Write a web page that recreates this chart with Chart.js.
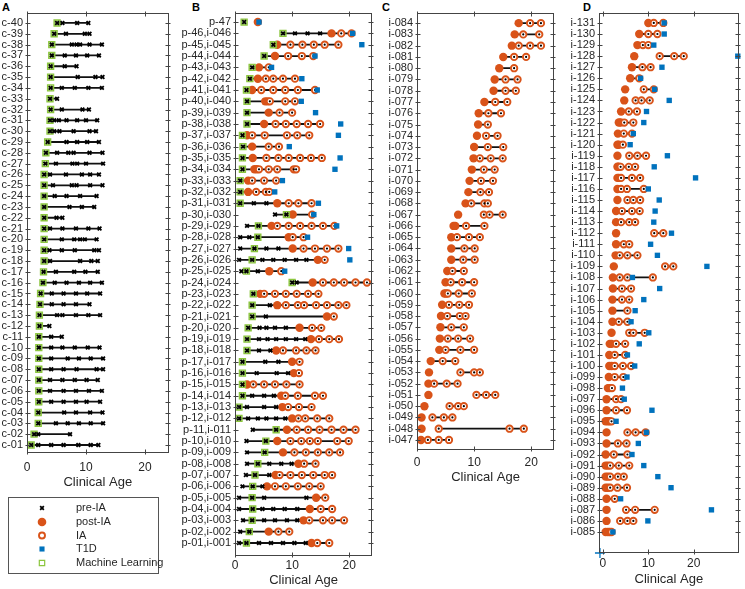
<!DOCTYPE html>
<html>
<head>
<meta charset="utf-8">
<title>Clinical Age</title>
<script src="https://cdn.jsdelivr.net/npm/chart.js@4.4.0/dist/chart.umd.min.js"></script>
<style>
    html, body { margin: 0; padding: 0; background: #fff; width: 745px; height: 589px; overflow: hidden; }
    canvas { position: absolute; top: 0; }
    .letter { position: absolute; top: 1px; font: bold 11px "Liberation Sans", Arial, sans-serif; color: #000; }
</style>
</head>
<body>
<div class="letter" style="left:2px">A</div>
<div class="letter" style="left:192px">B</div>
<div class="letter" style="left:382px">C</div>
<div class="letter" style="left:583px">D</div>
<canvas id="chart-a" width="178" height="600" style="left:0px"></canvas>
<canvas id="chart-b" width="200" height="600" style="left:178px"></canvas>
<canvas id="chart-c" width="182" height="600" style="left:378px"></canvas>
<canvas id="chart-d" width="185" height="600" style="left:560px"></canvas>
<script>
// ===== DATA (rows listed top to bottom) =====
const xTicks = [0, 10, 20];

// --- A: controls ---
const labelsA = ['c-40','c-39','c-38','c-37','c-36','c-35','c-34','c-33','c-32','c-31','c-30','c-29','c-28','c-27','c-26','c-25','c-24','c-23','c-22','c-21',
    'c-20','c-19','c-18','c-17','c-16','c-15','c-14','c-13','c-12','c-11','c-10','c-09','c-08','c-07','c-06','c-05','c-04','c-03','c-02','c-01'];
const preA = [
    [5.1,6.0,8.5,10.4], [4.6,6.6,9.8,10.6], [4.2,7.6,8.4,9.0,10.6,12.7], [4.2,6.4,8.3,10.2,12.2], [4.0,6.4,8.4],
    [4.0,8.6,11.6,12.8], [4.0,5.9,8.1,10.4,12.7], [3.9,5.1], [4.0,5.9,9.4,10.5], [3.9,4.6,5.4,6.7,8.5,10.0,11.9],
    [3.9,4.6,5.5,7.9,10.6,11.7], [3.5,6.7,8.5,10.2,12.2], [3.2,5.1,7.0,7.9,10.6,12.8], [3.1,4.9,7.7,8.5,10.0,12.9], [2.9,3.9,6.6,9.3,10.7,12.2],
    [2.9,4.4,7.6,8.4,10.7,12.8], [2.9,4.7,6.7,9.0,11.8], [2.9,7.2,9.3,11.4], [2.9,5.0,6.0], [2.9,3.9,6.0,8.3,10.4,12.3],
    [2.9,5.9,8.0,9.0,9.8,11.8], [2.9,3.8,5.9,8.1,11.4,12.2], [2.9,3.9,9.0,10.9,12.0], [2.8,4.9,8.0,9.9,12.0], [2.7,4.7,6.7,8.8,10.7,12.7],
    [2.3,4.2,6.2,8.3,10.2,12.4], [2.2,4.2,6.2,8.3,10.6], [2.1,5.1,6.0,8.3,10.4,12.4], [2.1,3.8], [2.0,4.1,5.9],
    [2.0,4.1,6.0,8.1,10.3,12.3], [2.0,4.1,6.9,8.8,10.8,12.9], [2.0,4.1,6.2,8.4,11.8,12.9], [2.0,3.9,6.0,8.1,10.1,12.0], [2.0,3.9,6.2,8.3,10.5,12.7],
    [2.0,4.1,6.2,8.3,10.1,12.4], [1.9,6.3,8.3,10.7,12.8], [1.9,4.9,6.9,8.8,10.8,12.9], [1.2,1.9,7.3], [0.7,1.9,4.1,6.2,8.7,10.8,12.1]
];
const mlA = [5.1,4.6,4.2,4.2,4.0,4.0,4.0,3.9,4.0,3.9,3.9,3.5,3.2,3.1,2.9,2.9,2.9,2.9,2.9,2.9,
    2.9,2.9,2.9,2.8,2.7,2.3,2.2,2.1,2.1,2.0,2.0,2.0,2.0,2.0,2.0,2.0,1.9,1.9,1.2,0.7];

// --- B: progressors ---
const labelsB = ['p-47','p-46,i-046','p-45,i-045','p-44,i-044','p-43,i-043','p-42,i-042','p-41,i-041','p-40,i-040','p-39,i-039','p-38,i-038',
    'p-37,i-037','p-36,i-036','p-35,i-035','p-34,i-034','p-33,i-033','p-32,i-032','p-31,i-031','p-30,i-030','p-29,i-029','p-28,i-028',
    'p-27,i-027','p-26,i-026','p-25,i-025','p-24,i-024','p-23,i-023','p-22,i-022','p-21,i-021','p-20,i-020','p-19,i-019','p-18,i-018',
    'p-17,i-017','p-16,i-016','p-15,i-015','p-14,i-014','p-13,i-013','p-12,i-012','p-11,i-011','p-10,i-010','p-09,i-009','p-08,i-008',
    'p-07,i-007','p-06,i-006','p-05,i-005','p-04,i-004','p-03,i-003','p-02,i-002','p-01,i-001'];
const preB = [
    [1.6], [8.4,10.5,12.7,14.9], [6.7], [5.1], [3.0], [2.6], [2.0], [2.1], [2.1], [2.1],
    [1.3], [1.4], [1.3], [1.3], [0.9], [0.9], [0.9,3.3,5.5], [7.0,9.0], [2.1,4.1], [0.9,2.5,4.0],
    [0.9,3.4,5.5,7.6], [0.7,3.0,4.8,6.7,8.7,10.7,12.5], [1.1,2.0,4.0], [10.0,10.8], [3.2], [3.0,6.1], [3.0,5.4], [2.3,4.3,5.5,7.0,8.9], [2.1,4.2,5.7,7.2,8.9,10.7,12.3], [2.1,4.2,6.2],
    [1.3,5.3,7.6], [1.3,3.8,7.3,9.3], [1.3], [1.3,3.0,5.1,6.8], [0.7,2.1,5.1,7.2], [0.7,2.3,4.0,5.5,7.2,8.8], [3.1,7.2], [2.0,5.4], [2.1,5.2], [2.1,4.0,6.0,8.1,9.9],
    [1.9,3.5,6.0], [1.3,3.1,4.8], [0.7,3.0,5.1,12.5], [0.7,3.1,4.8,6.7,8.7,10.9], [1.4,3.0,5.1,7.0,9.1,10.9], [0.9,2.5], [0.7,2.0,4.2,6.3,8.4,10.4,12.4]
];
const mlB = [1.6,8.4,6.7,5.1,3.0,2.6,2.0,2.1,2.1,2.1, 1.3,1.4,1.3,1.3,0.9,0.9,0.9,9.0,4.1,4.0,
    3.4,3.0,2.0,10.0,3.2,3.0,3.0,2.3,2.1,2.1, 1.3,1.3,1.3,1.3,0.7,0.7,7.2,5.4,5.2,4.0, 3.5,3.1,3.0,3.1,3.0,2.5,2.0];
const postB = [
    [4.0], [16.9], [7.4], [7.0], [4.2], [4.0], [3.0], [5.3,5.7], [5.9], [5.1],
    [2.1], [3.0], [3.1], [3.4,3.8], [2.3], [2.3], [7.4], [10.1], [6.4], [9.4],
    [10.1], [14.5], [6.0], [13.6], [4.4], [7.4], [16.1], [11.3], [13.3], [7.2],
    [10.0], [10.3], [2.1], [8.1], [8.3], [10.0], [9.1], [7.4], [8.4], [11.1],
    [7.1], [5.6], [14.2], [13.1], [12.0], [5.9], [13.4]
];
const iaB = [
    [], [18.6,20.4], [9.7,11.8,13.8,15.7,18.1], [9.3,11.7,13.7], [5.9], [5.4,6.7,8.4,10.5], [4.6,6.7,8.8,11.0,14.0], [6.1,8.8,10.5], [7.8,10.0], [7.1,8.9,10.8,12.8,14.9],
    [3.0,5.2,9.1,10.9,13.0], [5.9,7.7], [5.5,7.6,9.4,11.4,13.3,15.2], [4.2,5.9,7.4,10.3,10.7], [3.0,5.1,7.2], [3.7,5.4,6.0], [9.4,11.1,13.4], [13.5], [7.4,9.4,11.4,13.4,15.4,17.4], [10.1,12.0],
    [12.0,14.0,16.1,18.1], [15.7], [8.1], [15.4,17.3,19.1,21.1,23.1], [5.1,7.0,8.9,10.8,12.8,14.6], [8.9,11.0,12.1,14.2,16.1,18.1,19.5], [17.3], [13.5,15.1], [14.7,16.5,18.2], [8.4,10.7,12.5,14.1],
    [11.3], [11.2], [3.2,5.1,7.0,9.0,11.3], [8.8,11.0,14.0,15.4], [9.3,11.2,13.4], [11.1,12.3,14.4,16.5], [10.8,12.8,14.8,16.9,19.0,21.1], [9.7,11.6,13.1,14.5,17.9,19.9], [10.4,12.4,14.5,16.5,18.4], [12.1,14.1],
    [7.8,9.7,11.7,13.7,15.7,17.0], [7.0,8.9,11.0,13.0,15.0], [15.8], [15.0,17.0], [13.0,15.4,17.0,19.1], [7.6,9.5], [14.4,16.5]
];
const t1dB = [4.2,20.6,22.2,14.0,6.4,11.7,14.4,11.6,14.1,18.5, 18.1,9.5,18.4,17.5,8.3,6.95,14.6,13.8,17.8,12.7,
    19.9,20.1,8.7,null,null,null,null,null,null,null, null,null,null,null,null,null,null,null,null,null, null,null,null,null,null,null,null];
const detachedB = ['p-47'];

// --- C: IA only ---
const labelsC = ['i-084','i-083','i-082','i-081','i-080','i-079','i-078','i-077','i-076','i-075','i-074','i-073','i-072','i-071','i-070','i-069','i-068','i-067','i-066',
    'i-065','i-064','i-063','i-062','i-061','i-060','i-059','i-058','i-057','i-056','i-055','i-054','i-053','i-052','i-051','i-050','i-049','i-048','i-047'];
const postC = [
    [17.8], [17.1], [16.6], [15.1], [14.4], [13.6], [13.4], [11.8], [10.8], [10.7], [10.5], [10.0], [9.9], [9.6], [9.2], [9.0], [8.5], [7.2], [6.4,6.7],
    [6.0], [6.0], [6.0], [5.3], [5.0], [4.8,5.1], [4.4], [4.2], [4.1], [4.0], [3.9], [2.4], [2.1], [2.0], [2.0], [1.3], [0.8], [0.8], [0.7]
];
const iaC = [
    [19.8,21.7], [18.6,21.4], [17.8,19.8,21.7], [17.0,19.1], [17.0], [15.5,17.6], [15.5,17.3], [13.7,15.8], [12.5,14.7], [12.4],
    [12.1,14.1], [12.4,15.1], [11.0,12.9,15.0], [11.7,13.6], [11.2,13.3], [11.1,12.6], [9.5,11.8,12.4], [11.7,12.7,15.0], [8.6,11.8],
    [7.0,9.1,11.0], [8.3,10.1], [8.1,10.1], [6.2,8.2], [5.9,7.9,10.0], [5.4,7.3,9.6], [5.6,7.4,9.1], [5.3,7.5,8.5], [6.0,8.2], [5.4,7.2,9.3],
    [5.0,7.6,10.0], [4.5,6.7], [7.6,10.0,11.0], [3.0,5.2,7.1], [10.4,12.1,13.7], [5.7,7.2,8.2], [2.7,4.7,6.2], [3.8,16.2,18.7], [1.9,3.8,5.6]
];
const detachedC = ['i-074','i-067','i-053','i-051','i-050','i-049','i-048'];

// --- D: IA with T1D ---
const labelsD = ['i-131','i-130','i-129','i-128','i-127','i-126','i-125','i-124','i-123','i-122','i-121','i-120','i-119','i-118','i-117','i-116',
    'i-115','i-114','i-113','i-112','i-111','i-110','i-109','i-108','i-107','i-106','i-105','i-104','i-103','i-102','i-101','i-100',
    'i-099','i-098','i-097','i-096','i-095','i-094','i-093','i-092','i-091','i-090','i-089','i-088','i-087','i-086','i-085'];
const postD = [
    [10.0], [8.0], [7.6], [6.9], [6.4], [6.0], [4.9], [4.7], [4.0], [3.5,3.9], [3.3], [3.2,3.5], [3.2], [3.2,3.5], [3.2,3.5], [3.2],
    [3.2], [2.9], [2.9], [2.9], [2.9], [2.8], [2.4], [2.2], [2.2], [2.1], [2.1], [2.1], [1.9], [1.5,1.9], [1.4], [1.4,1.9],
    [1.3], [1.1,1.5], [0.8], [0.8], [0.6,1.1,1.5], [0.8], [0.8], [0.6], [0.6,1.1], [0.6,1.1], [0.6,1.1], [0.8], [0.8], [0.8], [0.6,1.1,1.5]
];
const iaD = [
    [11.2,13.3], [10.0,12.0], [8.8,10.0], [12.5,15.7,17.8], [8.7,10.5], [8.0], [9.0,11.2], [7.2,8.5,10.3], [5.7,7.5], [4.7,6.7], [4.6,6.4], [4.4], [5.8,7.6,9.5], [3.9,5.7,7.1], [4.0,6.4,8.2], [4.0,5.3,9.0],
    [5.4,6.7,8.2], [4.2,6.4,8.1], [4.0,5.8,7.1], [11.3,13.3], [4.6,5.8], [3.7,5.4,7.6], [13.7,15.5], [3.7,5.4,11.0], [4.2,6.2], [4.2,5.8], [5.4], [3.5,5.4], [5.8,6.7,9.2], [2.9,4.9], [2.6,4.9], [2.6,4.4,6.2],
    [2.6,4.5], [2.0], [2.9,4.0], [2.9,5.3], [1.9], [5.4,7.2,9.4], [3.3,5.2], [2.4,5.4], [1.6,3.5,5.8], [1.6,3.3,4.6], [1.6,3.2,5.3], [2.6], [5.1,7.1,11.4], [3.8,5.4,6.7], [1.9]
];
const t1dD = [13.5,13.5,11.2,29.7,13.0,8.3,11.4,14.6,9.6,9.0,6.7,6.0,14.2,11.3,20.4,10.0,
    12.4,11.5,11.2,15.1,10.5,12.0,22.9,6.5,12.5,9.0,7.1,6.2,10.1,8.0,5.4,7.0,
    5.3,4.3,4.7,10.8,2.9,9.6,7.8,6.4,9.0,12.1,15.0,3.9,23.9,9.9,2.2];
const detachedD = ['i-128','i-125','i-124','i-119','i-115','i-112','i-109','i-103','i-094','i-087','i-086'];
const strayD = [[-0.65, -0.9]];

// ===== STYLES =====
const INK = '#262626';
const ORANGE = '#D95319';
const BLUE = '#0072BD';
const GREEN = '#8CC63F';

Chart.defaults.font.family = '"Liberation Sans", Arial, Helvetica, sans-serif';
Chart.defaults.color = INK;

const markers = {
    pre:  { pointStyle: 'crossRot', pointRadius: 2.6, borderColor: '#000', backgroundColor: '#000', borderWidth: 1.8 },
    post: { pointStyle: 'circle', pointRadius: 4.2, borderColor: ORANGE, backgroundColor: ORANGE, borderWidth: 0 },
    ia:   { pointStyle: 'circle', pointRadius: 3.2, borderColor: ORANGE, backgroundColor: '#fff', borderWidth: 1.9 },
    dot:  { pointStyle: 'circle', pointRadius: 1.1, borderColor: '#000', backgroundColor: '#000', borderWidth: 0 },
    t1d:  { pointStyle: 'rect', pointRadius: 3.8, borderColor: BLUE, backgroundColor: BLUE, borderWidth: 0 },
    ml:   { pointStyle: 'rect', pointRadius: 4.2, borderColor: GREEN, backgroundColor: 'rgba(140,198,63,0.45)', borderWidth: 1.4 }
};

// row i (top to bottom) sits at y = n - i
function rowPoints(values) {
    const n = values.length;
    const out = [];
    values.forEach((v, i) => {
        if (v === null || v === undefined) return;
        [].concat(v).forEach(x => out.push({ x: x, y: n - i }));
    });
    return out;
}

// black line over each follow-up; post-IA is left out of it for detached rows
function rowLines(labels, pre, post, ia, detached) {
    const n = labels.length;
    const out = [];
    labels.forEach((lab, i) => {
        const xs = [].concat(pre ? pre[i] : [], ia ? ia[i] : [],
            (post && !detached.includes(lab)) ? post[i] : []);
        if (xs.length < 2) return;
        const lo = Math.min(...xs), hi = Math.max(...xs);
        if (hi - lo <= 0) return;
        out.push({ x: lo, y: n - i }, { x: hi, y: n - i }, { x: hi, y: null });
    });
    return out;
}

// ===== PLUGINS =====
const framePlugin = {
    id: 'frame',
    afterDraw(chart) {
        const { ctx, chartArea: a, scales } = chart;
        ctx.save();
        ctx.strokeStyle = '#444';
        ctx.lineWidth = 1;
        const l = Math.round(a.left) + 0.5, r = Math.round(a.right) - 0.5;
        const t = Math.round(a.top) + 0.5, b = Math.round(a.bottom) - 0.5;
        ctx.strokeRect(l, t, r - l, b - t);
        ctx.beginPath();
        scales.y.ticks.forEach(tk => {
            const y = Math.round(scales.y.getPixelForValue(tk.value)) + 0.5;
            ctx.moveTo(l - 2, y); ctx.lineTo(l + 3, y);
            ctx.moveTo(r - 3, y); ctx.lineTo(r + 2, y);
        });
        scales.x.ticks.forEach(tk => {
            const x = Math.round(scales.x.getPixelForValue(tk.value)) + 0.5;
            ctx.moveTo(x, t - 2); ctx.lineTo(x, t + 3);
            ctx.moveTo(x, b - 3); ctx.lineTo(x, b + 2);
        });
        ctx.stroke();
        ctx.restore();
    }
};

const legendItems = [
    { text: 'pre-IA', style: { pointStyle: 'crossRot', radius: 2.6, borderWidth: 1.8 }, fill: '#000', stroke: '#000' },
    { text: 'post-IA', style: { pointStyle: 'circle', radius: 4.3, borderWidth: 0 }, fill: ORANGE, stroke: ORANGE },
    { text: 'IA', style: { pointStyle: 'circle', radius: 3, borderWidth: 1.9 }, fill: '#fff', stroke: ORANGE },
    { text: 'T1D', style: { pointStyle: 'rect', radius: 3.6, borderWidth: 0 }, fill: BLUE, stroke: BLUE },
    { text: 'Machine Learning', style: { pointStyle: 'rect', radius: 3.8, borderWidth: 1.2 }, fill: '#fff', stroke: GREEN }
];

const legendPlugin = {
    id: 'legendBox',
    afterDraw(chart) {
        const ctx = chart.ctx;
        ctx.save();
        ctx.strokeStyle = '#555';
        ctx.lineWidth = 1;
        ctx.strokeRect(8.5, 497.5, 150, 76);
        ctx.font = '11px "Liberation Sans", Arial, sans-serif';
        ctx.textBaseline = 'middle';
        const rowY = [508, 522, 535.5, 549, 563];
        legendItems.forEach((item, i) => {
            ctx.fillStyle = item.fill;
            ctx.strokeStyle = item.stroke;
            ctx.lineWidth = item.style.borderWidth;
            Chart.helpers.drawPoint(ctx, item.style, 42, rowY[i]);
            ctx.fillStyle = INK;
            ctx.fillText(item.text, 76, rowY[i]);
        });
        ctx.restore();
    }
};

// ===== PANELS =====
function createPanel(canvasId, cfg) {
    const n = cfg.labels.length;
    const datasets = [];

    datasets.push({ data: rowLines(cfg.labels, cfg.pre, cfg.post, cfg.ia, cfg.detached || []),
        showLine: true, borderColor: '#111', borderWidth: 1.8, pointRadius: 0, spanGaps: false, order: 10 });
    if (cfg.post) datasets.push({ data: rowPoints(cfg.post), ...markers.post, order: 9, clip: false });
    if (cfg.ia) {
        datasets.push({ data: rowPoints(cfg.ia), ...markers.ia, order: 8, clip: false });
        datasets.push({ data: rowPoints(cfg.ia), ...markers.dot, order: 7, clip: false });
    }
    if (cfg.t1d) datasets.push({ data: rowPoints(cfg.t1d), ...markers.t1d, order: 6, clip: false });
    if (cfg.ml) datasets.push({ data: rowPoints(cfg.ml), ...markers.ml, order: 5, clip: false });
    if (cfg.pre) datasets.push({ data: rowPoints(cfg.pre), ...markers.pre, order: 4, clip: false });
    if (cfg.stray) datasets.push({ data: cfg.stray.map(p => ({ x: p[0], y: p[1] })),
        pointStyle: 'cross', pointRadius: 5, borderColor: BLUE, borderWidth: 1.3, order: 3, clip: false });

    const canvas = document.getElementById(canvasId);
    const w = canvas.width, h = canvas.height;

    return new Chart(canvas, {
        type: 'scatter',
        data: { datasets },
        options: {
            responsive: false,
            animation: false,
            events: [],
            layout: { padding: { left: 0, top: cfg.top, right: w - cfg.right, bottom: h - cfg.bottom - cfg.xAxisH } },
            plugins: { legend: { display: false }, tooltip: { enabled: false } },
            scales: {
                x: {
                    type: 'linear', position: 'bottom', min: cfg.xMin, max: cfg.xMax,
                    grid: { display: false, drawTicks: false }, border: { display: false },
                    afterBuildTicks: s => { s.ticks = xTicks.map(v => ({ value: v })); },
                    afterFit: s => { s.height = cfg.xAxisH; },
                    ticks: { font: { size: 12 }, padding: cfg.tickPad, color: INK, maxRotation: 0 },
                    title: { display: true, text: 'Clinical Age', font: { size: 13 }, color: INK, padding: { top: 0, bottom: 4 } }
                },
                y: {
                    type: 'linear', position: 'left', min: cfg.yMin, max: cfg.yMax,
                    grid: { display: false, drawTicks: false }, border: { display: false },
                    afterBuildTicks: s => { s.ticks = cfg.labels.map((_, i) => ({ value: i + 1 })); },
                    afterFit: s => { s.width = cfg.left; },
                    ticks: { autoSkip: false, font: { size: 11 }, padding: 4, color: INK,
                        callback: v => cfg.labels[n - v] }
                }
            }
        },
        plugins: cfg.withLegend ? [framePlugin, legendPlugin] : [framePlugin]
    });
}

createPanel('chart-a', { labels: labelsA, pre: preA, ml: mlA,
    left: 27, right: 168.6, top: 13, bottom: 453, xAxisH: 41, tickPad: 7,
    xMin: 0, xMax: 24, yMin: 0.26, yMax: 40.92, withLegend: true });

createPanel('chart-b', { labels: labelsB, pre: preB, ml: mlB, post: postB, ia: iaB, t1d: t1dB, detached: detachedB,
    left: 57, right: 197, top: 13, bottom: 556, xAxisH: 36, tickPad: 2,
    xMin: 0, xMax: 24, yMin: -0.15, yMax: 47.8 });

createPanel('chart-c', { labels: labelsC, post: postC, ia: iaC, detached: detachedC,
    left: 39, right: 177, top: 13, bottom: 450, xAxisH: 39, tickPad: 5,
    xMin: 0, xMax: 24, yMin: 0.11, yMax: 38.9 });

createPanel('chart-d', { labels: labelsD, post: postD, ia: iaD, t1d: t1dD, detached: detachedD, stray: strayD,
    left: 39, right: 182, top: 13, bottom: 553, xAxisH: 38, tickPad: 3,
    xMin: -0.86, xMax: 29.9, yMin: -0.9, yMax: 47.9 });
</script>
</body>
</html>
